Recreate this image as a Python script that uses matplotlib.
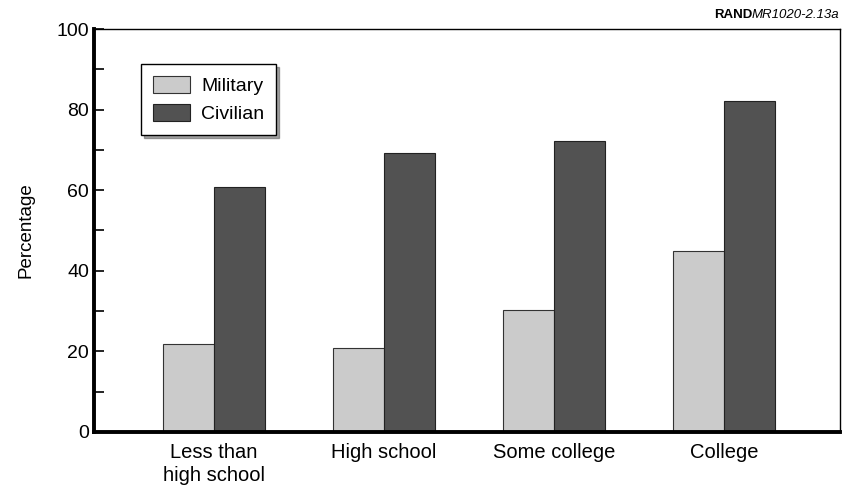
import matplotlib.pyplot as plt
import numpy as np

categories = ["Less than\nhigh school", "High school", "Some college", "College"]
military = [21.9, 20.9, 30.3, 44.8]
civilian = [60.7, 69.2, 72.3, 82.1]

plt.rcParams['font.family'] = ['Liberation Sans', 'DejaVu Sans']

fig = plt.figure(figsize=(8.43, 4.95), dpi=100)
ax = fig.add_axes([0.1115, 0.1273, 0.885, 0.8141])

x = np.arange(len(categories))
w = 0.3
ax.bar(x - w/2, military, w, color='#cbcbcb', edgecolor='#333333', linewidth=0.8,
       label='Military')
ax.bar(x + w/2, civilian, w, color='#525252', edgecolor='#222222', linewidth=0.8,
       label='Civilian')

ax.set_xlim(-0.706, 3.68)
ax.set_ylim(0, 100)
ax.set_yticks(range(0, 101, 20))
ax.set_yticks(range(10, 100, 20), minor=True)
ax.tick_params(axis='y', which='both', direction='in', length=7, width=1.2, labelsize=14)
ax.tick_params(axis='x', length=0, labelsize=14.5, pad=8)
ax.set_xticks(x)
ax.set_xticklabels(categories, linespacing=1.25)
ax.set_ylabel('Percentage', fontsize=13.5, labelpad=16)

ax.spines['left'].set_linewidth(2.8)
ax.spines['bottom'].set_linewidth(2.8)
ax.spines['top'].set_linewidth(1.0)
ax.spines['right'].set_linewidth(1.0)

leg = ax.legend(loc='upper left', bbox_to_anchor=(0.063, 0.913), borderaxespad=0,
                fontsize=14, fancybox=False, shadow=True, framealpha=1,
                edgecolor='black', handlelength=1.9, handleheight=1.0,
                handletextpad=0.6, borderpad=0.6, labelspacing=0.45)
leg.get_frame().set_linewidth(1.0)

tag = fig.text(0.996, 0.958, 'MR1020-2.13a', fontsize=9.5, style='italic',
               ha='right', va='bottom')
ax.annotate('RAND', xy=(0, 0), xycoords=tag, ha='right', va='bottom',
            fontsize=9.5, fontweight='bold', annotation_clip=False)

fig.savefig('out.png', dpi=100)
